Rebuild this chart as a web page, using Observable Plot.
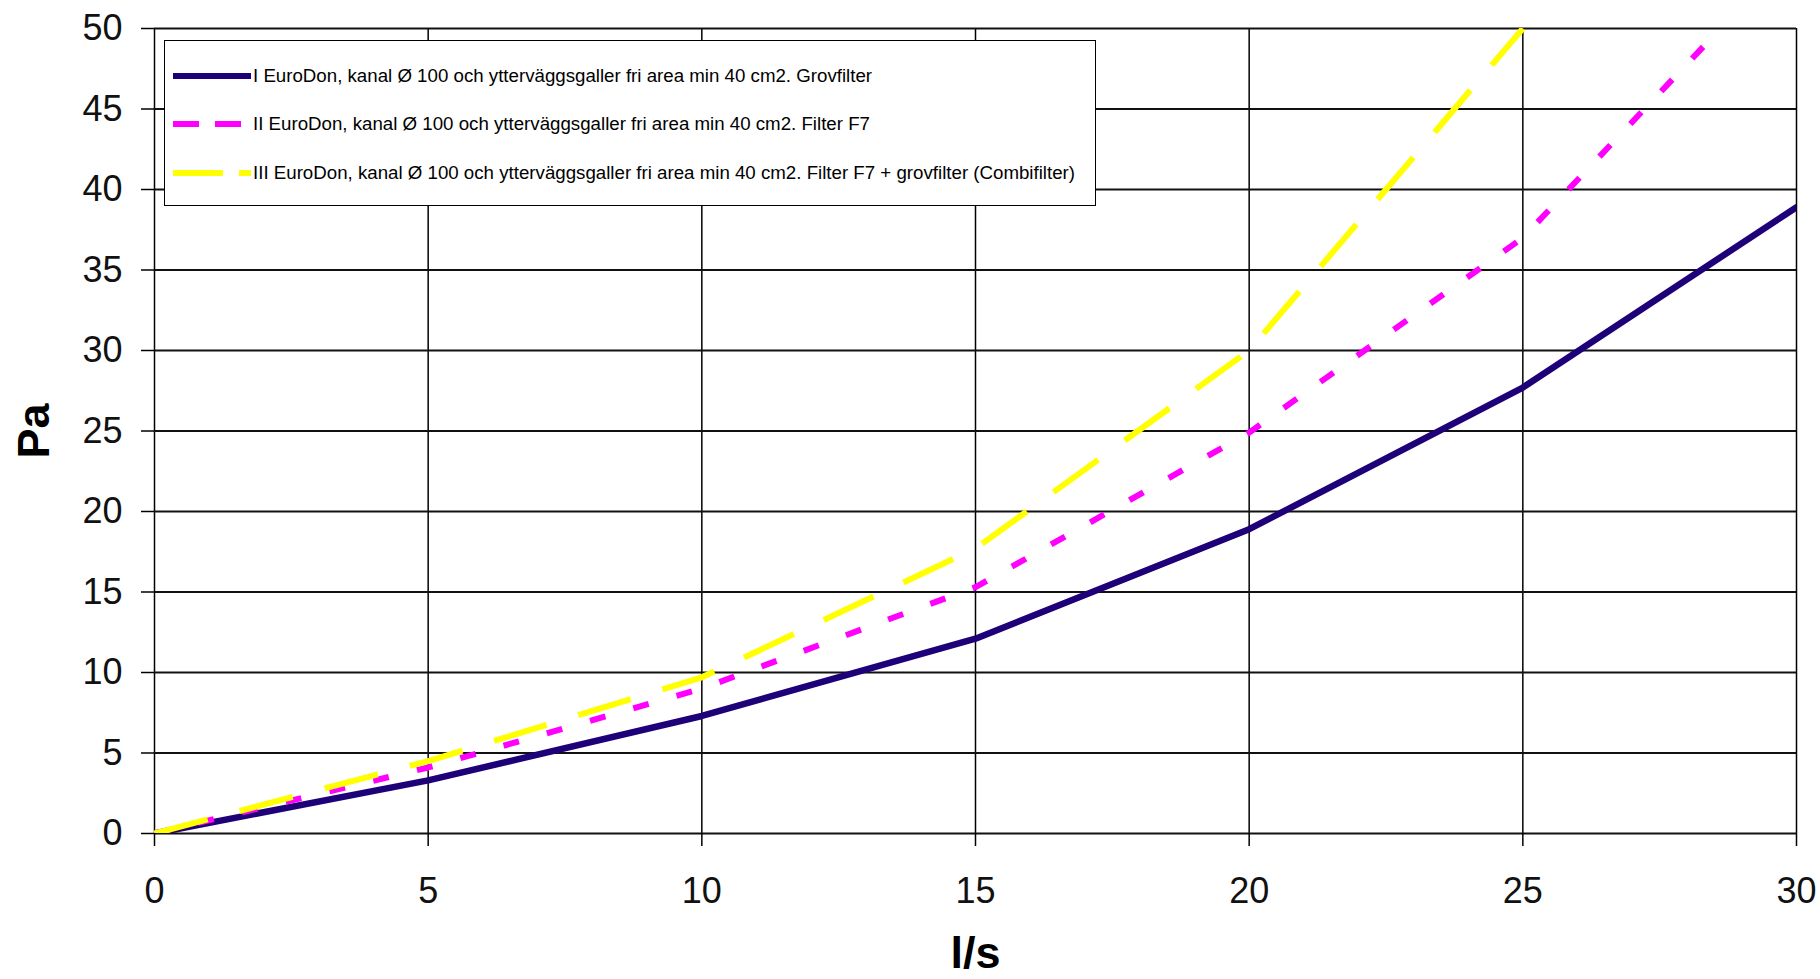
<!DOCTYPE html>
<html>
<head>
<meta charset="utf-8">
<script src="https://cdn.jsdelivr.net/npm/d3@7"></script>
<script src="https://cdn.jsdelivr.net/npm/@observablehq/plot@0.6"></script>
<style>
  html, body { margin: 0; padding: 0; background: #fff; }
  #wrap { position: relative; width: 1820px; height: 979px; font-family: "Liberation Sans", Arial, sans-serif; }
  #legend { position: absolute; left: 164px; top: 40px; width: 930px; height: 164px; background: #fff; border: 1.5px solid #000; }
  .row { position: absolute; left: 8px; height: 20px; display: flex; align-items: center; white-space: nowrap; font-size: 18.7px; color: #000; }
  .row svg { display: block; margin-right: 2px; }
</style>
</head>
<body>
<div id="wrap"></div>
<script>
const xValues = [0, 5, 10, 15, 20, 25, 30];
const seriesI = [0, 3.3, 7.3, 12.1, 18.9, 27.7, 38.9];
const seriesII = [0, 4.1, 9.0, 15.3, 24.9, 37.0, 55.0];
const seriesIII = [0, 4.5, 9.7, 17.7, 30.0, 50.0];
const xTicks = [0, 5, 10, 15, 20, 25, 30];
const yTicks = [0, 5, 10, 15, 20, 25, 30, 35, 40, 45, 50];
const seriesNames = [
  "I EuroDon, kanal Ø 100 och ytterväggsgaller fri area min 40 cm2. Grovfilter",
  "II EuroDon, kanal Ø 100 och ytterväggsgaller fri area min 40 cm2. Filter F7",
  "III EuroDon, kanal Ø 100 och ytterväggsgaller fri area min 40 cm2. Filter F7 + grovfilter (Combifilter)"
];
const colors = ["#1e0078", "#ff00ff", "#ffff00"];
const xLabel = "l/s";
const yLabel = "Pa";

const toRows = (vals) => vals.map((v, i) => ({x: xValues[i], y: v}));

const chart = Plot.plot({
  width: 1820,
  height: 979,
  marginLeft: 154,
  marginRight: 24,
  marginTop: 28,
  marginBottom: 146,
  style: {fontFamily: "'Liberation Sans', Arial, sans-serif", color: "#000", background: "#fff", overflow: "visible"},
  x: {domain: [0, 30]},
  y: {domain: [0, 50]},
  marks: [
    Plot.gridX(xTicks, {stroke: "#000", strokeOpacity: 1, strokeWidth: 1.5}),
    Plot.gridY(yTicks, {stroke: "#111", strokeOpacity: 1, strokeWidth: 2.2}),
    Plot.axisY(yTicks, {tickSize: 13, tickPadding: 19, fontSize: 36, stroke: "#000", strokeWidth: 1.5, fill: "#111", label: null}),
    Plot.axisX(xTicks, {tickSize: 13, tickPadding: 31, fontSize: 36, stroke: "#000", strokeWidth: 1.5, fill: "#111", label: null}),
    Plot.line(toRows(seriesI), {x: "x", y: "y", stroke: colors[0], strokeWidth: 6.5, clip: true}),
    Plot.line(toRows(seriesII), {x: "x", y: "y", stroke: colors[1], strokeWidth: 6, strokeDasharray: "16,29", strokeLinecap: "butt", clip: true}),
    Plot.line(toRows(seriesIII), {x: "x", y: "y", stroke: colors[2], strokeWidth: 6, strokeDasharray: "55,33", strokeLinecap: "butt", clip: true}),
    Plot.text([yLabel], {text: d => d, frameAnchor: "left", textAnchor: "middle", lineAnchor: "middle", dx: -120, rotate: -90, fontSize: 45, fontWeight: "bold", fill: "#000"}),
    Plot.text([xLabel], {text: d => d, frameAnchor: "bottom", textAnchor: "middle", lineAnchor: "middle", dy: 120, fontSize: 45, fontWeight: "bold", fill: "#000"})
  ]
});
const wrap = document.getElementById("wrap");
wrap.appendChild(chart);

// Legend (inside the plot area, top-left)
const legend = document.createElement("div");
legend.id = "legend";
const rowTops = [25, 73, 122];
const dashes = [null, "26,16", "50,16"];
seriesNames.forEach((name, i) => {
  const row = document.createElement("div");
  row.className = "row";
  row.style.top = rowTops[i] + "px";
  const ns = "http://www.w3.org/2000/svg";
  const svg = document.createElementNS(ns, "svg");
  svg.setAttribute("width", "78");
  svg.setAttribute("height", "10");
  const ln = document.createElementNS(ns, "line");
  ln.setAttribute("x1", "0"); ln.setAttribute("x2", "78");
  ln.setAttribute("y1", "5"); ln.setAttribute("y2", "5");
  ln.setAttribute("stroke", colors[i]);
  ln.setAttribute("stroke-width", "6");
  if (dashes[i]) ln.setAttribute("stroke-dasharray", dashes[i]);
  svg.appendChild(ln);
  row.appendChild(svg);
  const span = document.createElement("span");
  span.textContent = name;
  row.appendChild(span);
  legend.appendChild(row);
});
wrap.appendChild(legend);
</script>
</body>
</html>
